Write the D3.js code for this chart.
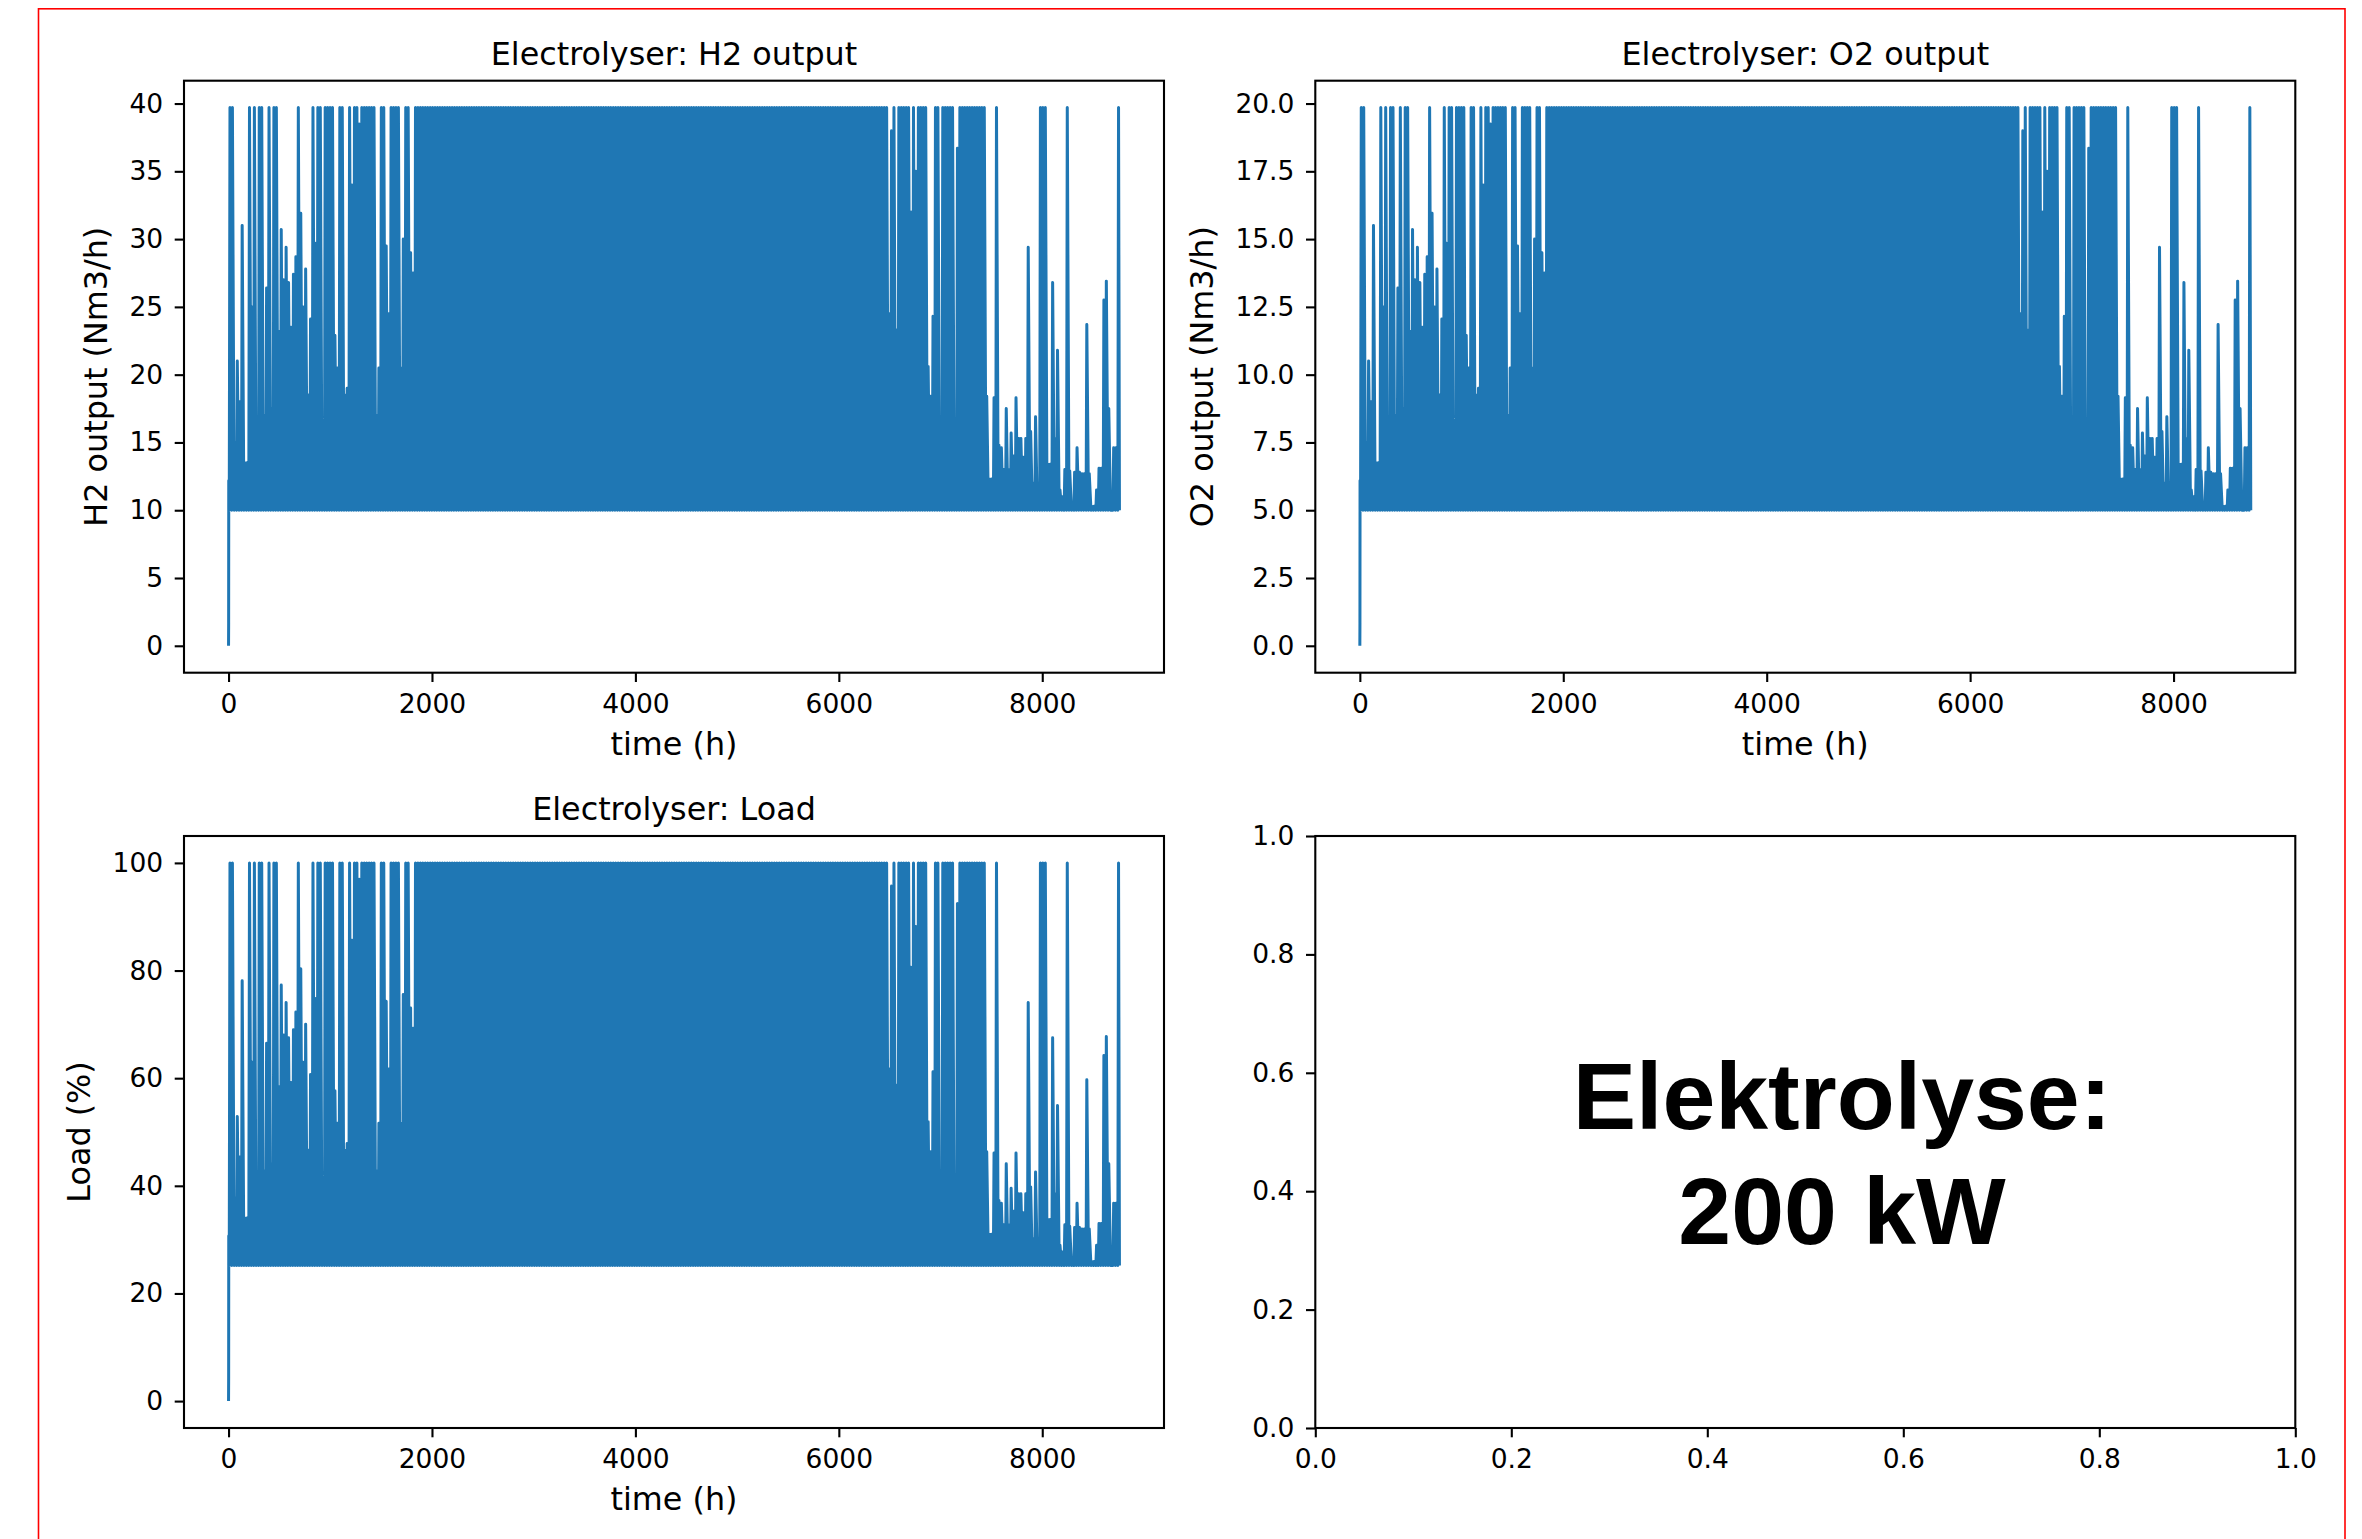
<!DOCTYPE html>
<html>
<head>
<meta charset="utf-8">
<script src="https://cdn.jsdelivr.net/npm/d3@7"></script>
<style>
  html, body { margin: 0; padding: 0; background: #ffffff; }
  svg { display: block; }
</style>
</head>
<body>
<svg id="chart" width="2362" height="1539"></svg>
<script>
// ---------------- DATA ----------------
const h2Base = 10;          // H2 output at minimum load (Nm3/h)
const h2Rated = 39.7;       // H2 output at 100 % load (Nm3/h)
const startHours = [0, 1, 2, 6];
const startH2 = [0, 1.7, 12.2, 12.2];

// Daily peak H2 output (Nm3/h), one value per day of the year (365 days)
const dailyPeakH2 = [
  // days 0-75
  39.7,39.7,15,21,18,31,13.5,13.5,39.7,25,
  39.7,14,39.7,39.7,17,26.4,39.7,17.5,39.7,39.7,
  23.2,30.7,27,29.4,26.8,23.5,27.4,28.7,39.7,31.9,
  25,27.8,18.5,24.1,39.7,29.7,39.7,39.7,13.5,39.7,
  39.7,39.7,39.7,22.9,20.5,39.7,39.7,18.5,19,39.7,
  34,39.7,39.7,38.5,39.7,39.7,39.7,39.7,39.7,39.7,
  17,20.5,39.7,39.7,29.5,24.5,39.7,39.7,39.7,39.7,
  20.5,30,39.7,39.7,29,27.5,
  // days 76-254
  39.7,39.7,39.7,39.7,39.7,39.7,39.7,39.7,39.7,39.7,
  39.7,39.7,39.7,39.7,39.7,39.7,39.7,39.7,39.7,39.7,
  39.7,39.7,39.7,39.7,39.7,39.7,39.7,39.7,39.7,39.7,
  39.7,39.7,39.7,39.7,39.7,39.7,39.7,39.7,39.7,39.7,
  39.7,39.7,39.7,39.7,39.7,39.7,39.7,39.7,39.7,39.7,
  39.7,39.7,39.7,39.7,39.7,39.7,39.7,39.7,39.7,39.7,
  39.7,39.7,39.7,39.7,39.7,39.7,39.7,39.7,39.7,39.7,
  39.7,39.7,39.7,39.7,39.7,39.7,39.7,39.7,39.7,39.7,
  39.7,39.7,39.7,39.7,39.7,39.7,39.7,39.7,39.7,39.7,
  39.7,39.7,39.7,39.7,39.7,39.7,39.7,39.7,39.7,39.7,
  39.7,39.7,39.7,39.7,39.7,39.7,39.7,39.7,39.7,39.7,
  39.7,39.7,39.7,39.7,39.7,39.7,39.7,39.7,39.7,39.7,
  39.7,39.7,39.7,39.7,39.7,39.7,39.7,39.7,39.7,39.7,
  39.7,39.7,39.7,39.7,39.7,39.7,39.7,39.7,39.7,39.7,
  39.7,39.7,39.7,39.7,39.7,39.7,39.7,39.7,39.7,39.7,
  39.7,39.7,39.7,39.7,39.7,39.7,39.7,39.7,39.7,39.7,
  39.7,39.7,39.7,39.7,39.7,39.7,39.7,39.7,39.7,39.7,
  39.7,39.7,39.7,39.7,39.7,39.7,39.7,39.7,39.7,
  // days 255-364
  39.7,39.7,39.7,39.7,39.7,39.7,39.7,39.7,39.7,39.7,
  39.7,39.7,39.7,39.7,39.7,24.5,38,39.7,23.3,39.7,
  39.7,39.7,39.7,39.7,32,39.7,35,39.7,39.7,39.7,
  39.7,20.6,18.4,24.3,39.7,39.7,15,39.7,39.7,39.7,
  39.7,39.7,13.7,36.7,39.7,39.7,39.7,39.7,39.7,39.7,
  39.7,39.7,39.7,39.7,39.7,18.4,12.3,12.3,18.3,39.7,
  14.8,14.6,13,17.5,13,15.7,14,18.3,15.3,15.3,
  13.9,15.3,29.4,15.8,12,16.9,12,39.7,39.7,39.7,
  13.4,13.4,26.8,15.3,21.8,11.5,11,13,39.7,12.9,
  10.5,12.8,14.6,12.8,12.7,12.7,23.7,12.7,10.3,10.3,
  11.5,13.1,13.1,25.5,26.9,17.5,10,14.6,14.6,39.7
];
const lastHour = 8759;

const xTicks = [0, 2000, 4000, 6000, 8000];
const h2Ticks = [0, 5, 10, 15, 20, 25, 30, 35, 40];
const o2Ticks = [0, 2.5, 5, 7.5, 10, 12.5, 15, 17.5, 20];
const loadTicks = [0, 20, 40, 60, 80, 100];
const emptyTicks = [0, 0.2, 0.4, 0.6, 0.8, 1.0];

const titles = ["Electrolyser: H2 output", "Electrolyser: O2 output", "Electrolyser: Load"];
const yLabels = ["H2 output (Nm3/h)", "O2 output (Nm3/h)", "Load (%)"];
const xLabel = "time (h)";
const noteLines = ["Elektrolyse:", "200 kW"];

// ---------------- SERIES ----------------
const h2Series = startHours.map((h, i) => [h, startH2[i]]);
dailyPeakH2.forEach((p, d) => {
  h2Series.push([d * 24 + 7, h2Base]);
  h2Series.push([d * 24 + 14, p]);
});
h2Series.push([lastHour, h2Base]);
const o2Series = h2Series.map(d => [d[0], d[1] / 2]);
const loadSeries = h2Series.map(d => [d[0], d[1] / h2Rated * 100]);

// ---------------- DRAW ----------------
const svg = d3.select("#chart");
const FONT = "DejaVu Sans";
const TICK_FS = 26.5, LABEL_FS = 31.8;

svg.append("rect")
  .attr("x", 38.5).attr("y", 8.8).attr("width", 2306.5).attr("height", 1600)
  .attr("fill", "none").attr("stroke", "#ff0000").attr("stroke-width", 1.6);

function padded(ext) {
  const r = ext[1] - ext[0];
  return [ext[0] - 0.05 * r, ext[1] + 0.05 * r];
}

function drawPanel(p) {
  const g = svg.append("g").attr("transform", `translate(${p.left},${p.top})`);
  const x = d3.scaleLinear().domain(p.xDomain).range([0, p.width]);
  const y = d3.scaleLinear().domain(p.yDomain).range([p.height, 0]);

  if (p.series) {
    g.append("path")
      .datum(p.series)
      .attr("d", d3.line().x(d => x(d[0])).y(d => y(d[1])))
      .attr("fill", "none")
      .attr("stroke", "#1f77b4")
      .attr("stroke-width", 3.0)
      .attr("stroke-linejoin", "round");
  }

  const xa = g.append("g").attr("transform", `translate(0,${p.height})`)
    .call(d3.axisBottom(x).tickValues(p.xTicks).tickFormat(p.xFmt)
      .tickSizeInner(9.3).tickSizeOuter(0).tickPadding(11.8));
  const ya = g.append("g")
    .call(d3.axisLeft(y).tickValues(p.yTicks).tickFormat(p.yFmt)
      .tickSizeInner(9.3).tickSizeOuter(0).tickPadding(11.6));
  [xa, ya].forEach(a => {
    a.attr("font-family", FONT).attr("font-size", TICK_FS);
    a.select(".domain").remove();
    a.selectAll(".tick line").attr("stroke", "#000").attr("stroke-width", 2.1);
    a.selectAll(".tick text").attr("fill", "#000");
  });

  g.append("rect").attr("width", p.width).attr("height", p.height)
    .attr("fill", "none").attr("stroke", "#000").attr("stroke-width", 2.1);

  if (p.title) {
    g.append("text").attr("x", p.width / 2).attr("y", -15.9)
      .attr("text-anchor", "middle").attr("font-family", FONT)
      .attr("font-size", LABEL_FS).attr("fill", "#000").text(p.title);
  }
  if (p.xLabel) {
    g.append("text").attr("x", p.width / 2).attr("y", p.height + 82)
      .attr("text-anchor", "middle").attr("font-family", FONT)
      .attr("font-size", LABEL_FS).attr("fill", "#000").text(p.xLabel);
  }
  if (p.yLabel) {
    let maxW = 0;
    ya.selectAll(".tick text").each(function () {
      maxW = Math.max(maxW, this.getComputedTextLength());
    });
    const bx = -(20.9 + maxW + 22.1);
    g.append("text")
      .attr("transform", `translate(${bx},${p.height / 2}) rotate(-90)`)
      .attr("text-anchor", "middle").attr("font-family", FONT)
      .attr("font-size", LABEL_FS).attr("fill", "#000").text(p.yLabel);
  }
  return g;
}

const xDom = padded([0, lastHour]);
const W = 980, H = 592;
const L1 = 184, L2 = 1315.3, T1 = 80.7, T2 = 836;

drawPanel({
  left: L1, top: T1, width: W, height: H,
  xDomain: xDom, yDomain: padded(d3.extent(h2Series, d => d[1])),
  xTicks: xTicks, yTicks: h2Ticks, xFmt: d3.format("d"), yFmt: d3.format("d"),
  series: h2Series, title: titles[0], xLabel: xLabel, yLabel: yLabels[0]
});
drawPanel({
  left: L2, top: T1, width: W, height: H,
  xDomain: xDom, yDomain: padded(d3.extent(o2Series, d => d[1])),
  xTicks: xTicks, yTicks: o2Ticks, xFmt: d3.format("d"), yFmt: d3.format(".1f"),
  series: o2Series, title: titles[1], xLabel: xLabel, yLabel: yLabels[1]
});
drawPanel({
  left: L1, top: T2, width: W, height: H,
  xDomain: xDom, yDomain: padded(d3.extent(loadSeries, d => d[1])),
  xTicks: xTicks, yTicks: loadTicks, xFmt: d3.format("d"), yFmt: d3.format("d"),
  series: loadSeries, title: titles[2], xLabel: xLabel, yLabel: yLabels[2]
});
drawPanel({
  left: L2, top: T2, width: W, height: H,
  xDomain: [0, 1], yDomain: [0, 1],
  xTicks: emptyTicks, yTicks: emptyTicks, xFmt: d3.format(".1f"), yFmt: d3.format(".1f")
});

svg.append("text").attr("x", 1842).attr("y", 1129)
  .attr("text-anchor", "middle").attr("font-family", "Liberation Sans")
  .attr("font-weight", "bold").attr("font-size", 95).attr("fill", "#000")
  .text(noteLines[0]);
svg.append("text").attr("x", 1842).attr("y", 1244)
  .attr("text-anchor", "middle").attr("font-family", "Liberation Sans")
  .attr("font-weight", "bold").attr("font-size", 95).attr("fill", "#000")
  .text(noteLines[1]);
</script>
</body>
</html>
